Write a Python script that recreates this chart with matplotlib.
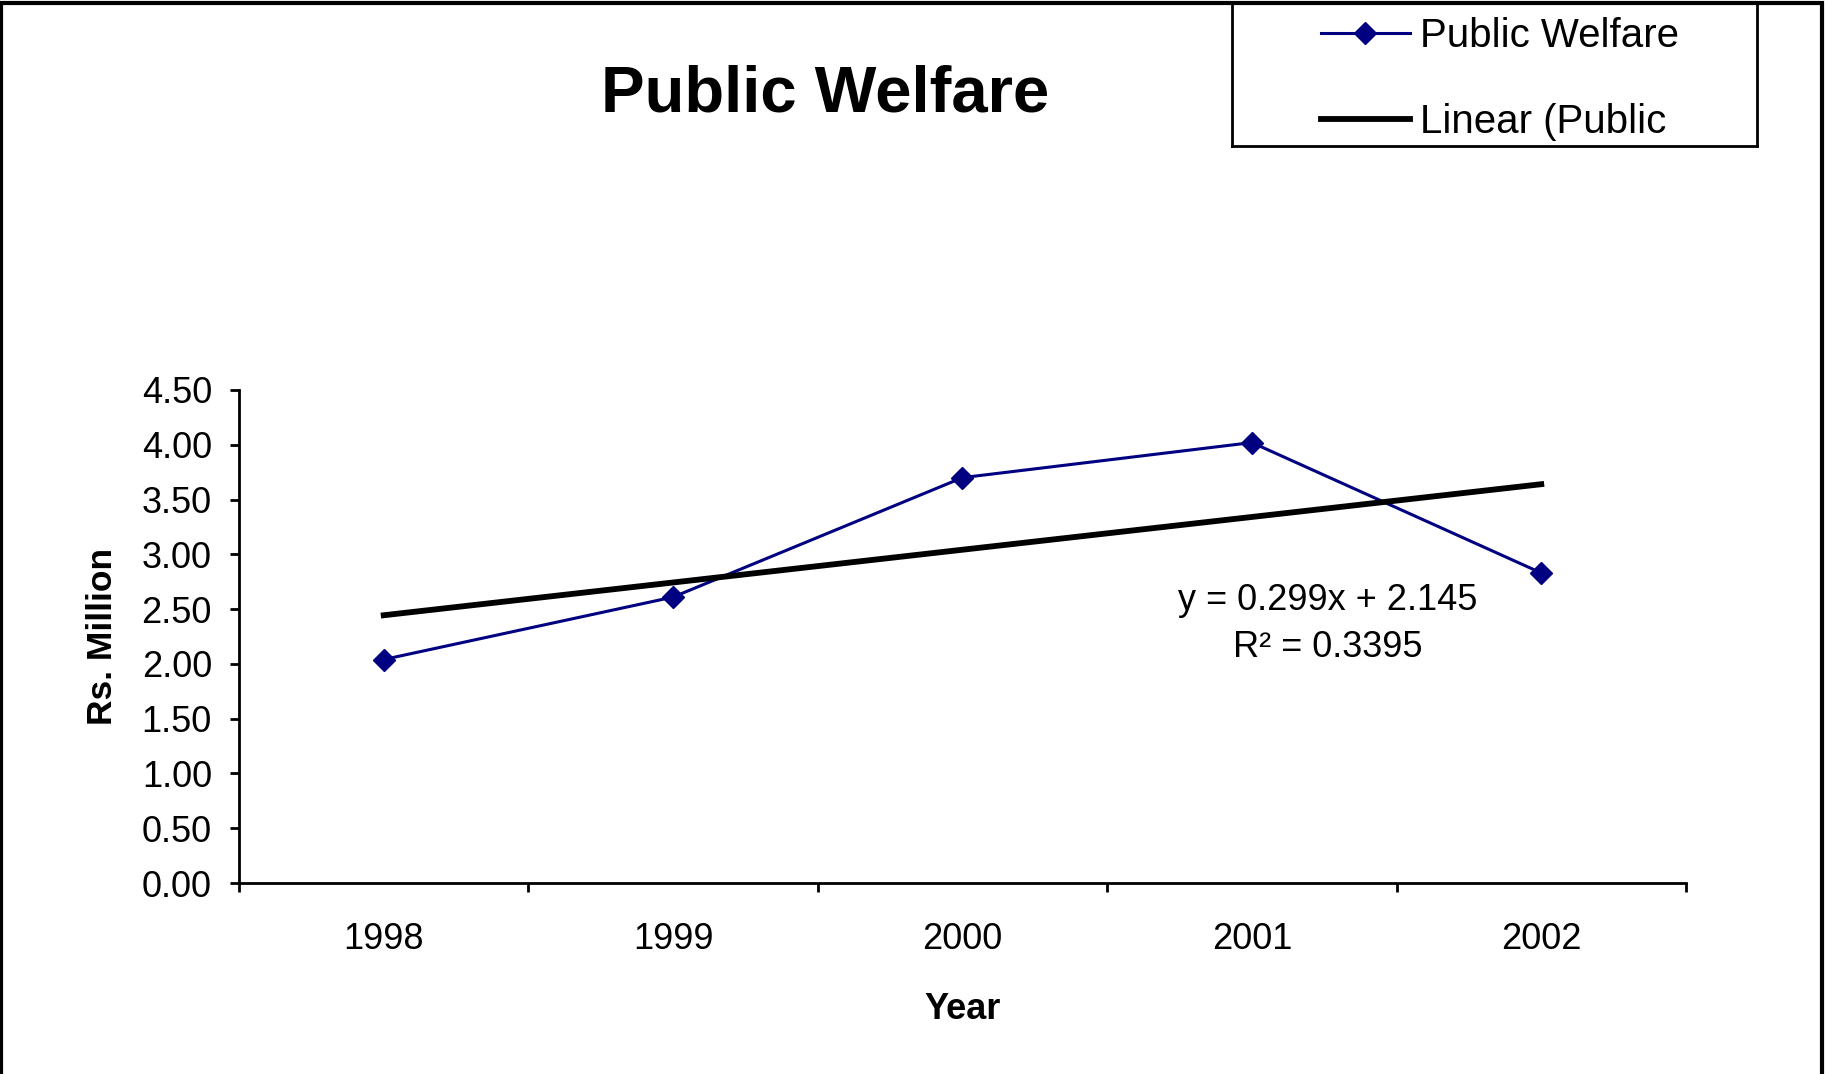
import matplotlib
matplotlib.use("Agg")
import matplotlib.pyplot as plt
from matplotlib.patches import Rectangle
import numpy as np

# values
years = ["1998", "1999", "2000", "2001", "2002"]
welfare = [2.04, 2.61, 3.70, 4.02, 2.83]
slope = 0.299
intercept = 2.145
r_squared = 0.3395
y_ticks = [0.0, 0.5, 1.0, 1.5, 2.0, 2.5, 3.0, 3.5, 4.0, 4.5]

plt.rcParams["font.family"] = ["Liberation Sans", "DejaVu Sans"]

fig = plt.figure(figsize=(18.26, 10.74), dpi=100)
ax = fig.add_axes([0.1309, 0.1778, 0.7924, 0.4591])

x = np.arange(1, len(years) + 1)
trend = slope * x + intercept

ax.plot(x, welfare, color="#000080", lw=2.2, marker="D", ms=11.5,
        label="Public Welfare", zorder=2)
ax.plot(x, trend, color="black", lw=4.2, label="Linear (Public", zorder=3)

ax.set_ylim(0, 4.5)
ax.set_yticks(y_ticks)
ax.set_yticklabels(["%.2f" % v for v in y_ticks], fontsize=26)
ax.set_xlim(0.5, len(years) + 0.5)
ax.set_xticks(np.arange(0.5, len(years) + 1, 1))
ax.set_xticklabels([])
ax.set_xticks(x, minor=True)
ax.set_xticklabels(years, minor=True, fontsize=26)
ax.tick_params(axis="both", which="major", direction="out", length=6.5, width=2)
ax.tick_params(axis="y", pad=13)
ax.tick_params(axis="x", which="minor", length=0, pad=28)

for s in ["top", "right"]:
    ax.spines[s].set_visible(False)
for s in ["left", "bottom"]:
    ax.spines[s].set_linewidth(2)

ax.set_ylabel("Rs. Million", fontsize=25.5, fontweight="bold", labelpad=16)
ax.set_xlabel("Year", fontsize=26, fontweight="bold", labelpad=25)

ax.text(4.263, 2.58, "y = %.3fx + %.3f" % (slope, intercept), fontsize=26,
        ha="center", va="center")
ax.text(4.263, 2.15, "R\u00b2 = %.4f" % r_squared, fontsize=26,
        ha="center", va="center")

fig.text(0.452, 1 - 95 / 1074, "Public Welfare", fontsize=47, fontweight="bold",
         ha="center", va="center")

# legend box
lax = fig.add_axes([1232 / 1826, 1 - 146 / 1074, 525 / 1826, 144 / 1074])
lax.set_xticks([])
lax.set_yticks([])
for s in lax.spines.values():
    s.set_linewidth(2)
handles, labels = ax.get_legend_handles_labels()
lax.legend(handles, labels, loc="center left", bbox_to_anchor=(89 / 525, 0.465),
           frameon=False, borderpad=0, borderaxespad=0, handlelength=2.2,
           handletextpad=0.25, labelspacing=1.2, fontsize=29)

# outer chart border (bottom edge cropped off)
fig.add_artist(Rectangle((0.0008, -0.1), 0.997, 1.0972, transform=fig.transFigure,
                         fill=False, ec="black", lw=3))

fig.savefig("out.png", dpi=100)
